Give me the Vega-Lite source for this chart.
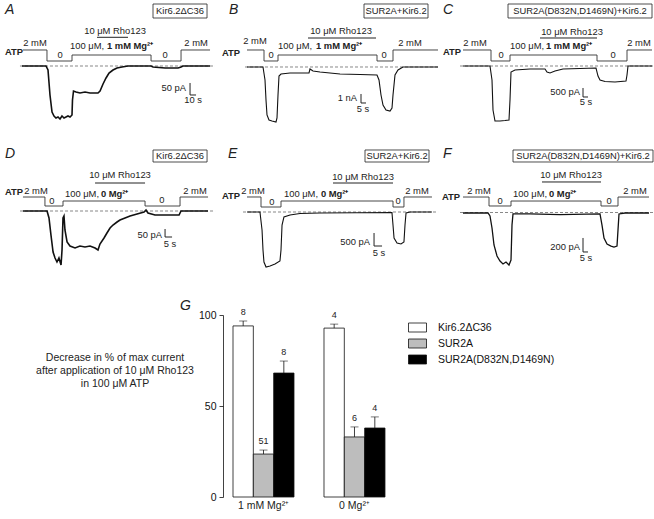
{
"$schema": "https://vega.github.io/schema/vega-lite/v6.json",
"padding": 0,
"spacing": 0,
"columns": 3,
"align": "none",
"bounds": "flush",
"config": {"view": {"stroke": null}, "font": "Liberation Sans", "text": {"font": "Liberation Sans", "fontSize": 9.4, "color": "#222"}},
"datasets": {
"trace": [
{"p":"A","t":36.7,"i":0},{"p":"A","t":76.7,"i":0},{"p":"A","t":80,"i":-16.7},{"p":"A","t":83.3,"i":-120.8},{"p":"A","t":86.7,"i":-191.7},{"p":"A","t":90,"i":-208.3},{"p":"A","t":93.3,"i":-216.7},{"p":"A","t":96.7,"i":-212.5},{"p":"A","t":100,"i":-220.8},{"p":"A","t":103.3,"i":-208.3},{"p":"A","t":106.7,"i":-216.7},{"p":"A","t":110,"i":-212.5},{"p":"A","t":113.3,"i":-208.3},{"p":"A","t":116.7,"i":-212.5},{"p":"A","t":120,"i":-204.2},{"p":"A","t":120.8,"i":-141.7},{"p":"A","t":122.5,"i":-104.2},{"p":"A","t":126.7,"i":-108.3},{"p":"A","t":133.3,"i":-112.5},{"p":"A","t":141.7,"i":-108.3},{"p":"A","t":150,"i":-112.5},{"p":"A","t":158.3,"i":-112.5},{"p":"A","t":163.3,"i":-112.5},{"p":"A","t":166.7,"i":-104.2},{"p":"A","t":171.7,"i":-75},{"p":"A","t":176.7,"i":-50},{"p":"A","t":181.7,"i":-29.2},{"p":"A","t":188.3,"i":-16.7},{"p":"A","t":195,"i":-8.3},{"p":"A","t":203.3,"i":-4.2},{"p":"A","t":213.3,"i":0},{"p":"A","t":251.7,"i":0},{"p":"A","t":255,"i":-4.2},{"p":"A","t":275,"i":-8.3},{"p":"A","t":296.7,"i":-8.3},{"p":"A","t":301.7,"i":-4.2},{"p":"A","t":305,"i":0},{"p":"A","t":350,"i":0},
{"p":"B","t":32,"i":0},{"p":"B","t":48,"i":0},{"p":"B","t":50,"i":-1444},{"p":"B","t":51,"i":-3667},{"p":"B","t":52,"i":-5333},{"p":"B","t":54,"i":-5889},{"p":"B","t":57,"i":-6000},{"p":"B","t":61,"i":-6111},{"p":"B","t":62,"i":-5667},{"p":"B","t":63,"i":-3111},{"p":"B","t":64,"i":-1000},{"p":"B","t":66,"i":-778},{"p":"B","t":75,"i":-667},{"p":"B","t":85,"i":-667},{"p":"B","t":94,"i":-667},{"p":"B","t":95,"i":-222},{"p":"B","t":98,"i":-444},{"p":"B","t":105,"i":-556},{"p":"B","t":125,"i":-778},{"p":"B","t":145,"i":-833},{"p":"B","t":162,"i":-889},{"p":"B","t":164,"i":-1444},{"p":"B","t":166,"i":-3111},{"p":"B","t":168,"i":-4222},{"p":"B","t":171,"i":-4778},{"p":"B","t":175,"i":-4889},{"p":"B","t":177,"i":-4556},{"p":"B","t":178,"i":-3111},{"p":"B","t":180,"i":-889},{"p":"B","t":183,"i":-333},{"p":"B","t":188,"i":0},{"p":"B","t":223,"i":0},
{"p":"C","t":23,"i":0},{"p":"C","t":50,"i":0},{"p":"C","t":52,"i":-778},{"p":"C","t":53,"i":-2444},{"p":"C","t":55,"i":-3056},{"p":"C","t":60,"i":-3056},{"p":"C","t":65,"i":-3028},{"p":"C","t":69,"i":-3000},{"p":"C","t":70,"i":-1889},{"p":"C","t":71,"i":-333},{"p":"C","t":75,"i":-222},{"p":"C","t":90,"i":-167},{"p":"C","t":105,"i":-167},{"p":"C","t":107,"i":-333},{"p":"C","t":110,"i":-389},{"p":"C","t":115,"i":-278},{"p":"C","t":123,"i":-167},{"p":"C","t":140,"i":-139},{"p":"C","t":156,"i":-111},{"p":"C","t":158,"i":-556},{"p":"C","t":160,"i":-778},{"p":"C","t":165,"i":-861},{"p":"C","t":175,"i":-889},{"p":"C","t":186,"i":-833},{"p":"C","t":187,"i":-500},{"p":"C","t":188,"i":0},{"p":"C","t":212,"i":0},
{"p":"D","t":16.4,"i":0},{"p":"D","t":33.6,"i":0},{"p":"D","t":35,"i":-43.75},{"p":"D","t":36.4,"i":-150},{"p":"D","t":37.9,"i":-256.25},{"p":"D","t":39.3,"i":-293.75},{"p":"D","t":40.7,"i":-318.75},{"p":"D","t":42.1,"i":-293.75},{"p":"D","t":43.6,"i":-337.5},{"p":"D","t":44.3,"i":-243.75},{"p":"D","t":45,"i":-43.75},{"p":"D","t":45.7,"i":-31.25},{"p":"D","t":46.4,"i":-118.75},{"p":"D","t":47.9,"i":-193.75},{"p":"D","t":50,"i":-218.75},{"p":"D","t":53.6,"i":-231.25},{"p":"D","t":57.1,"i":-218.75},{"p":"D","t":60.7,"i":-225},{"p":"D","t":64.3,"i":-218.75},{"p":"D","t":67.9,"i":-231.25},{"p":"D","t":70,"i":-243.75},{"p":"D","t":71.4,"i":-206.25},{"p":"D","t":74.3,"i":-168.75},{"p":"D","t":76.4,"i":-137.5},{"p":"D","t":78.6,"i":-106.25},{"p":"D","t":80.7,"i":-87.5},{"p":"D","t":83.6,"i":-68.75},{"p":"D","t":85.7,"i":-56.25},{"p":"D","t":89.3,"i":-43.75},{"p":"D","t":92.9,"i":-31.25},{"p":"D","t":97.9,"i":-18.75},{"p":"D","t":102.9,"i":-6.25},{"p":"D","t":104.3,"i":6.25},{"p":"D","t":105.7,"i":-12.5},{"p":"D","t":110.7,"i":-25},{"p":"D","t":121.4,"i":-25},{"p":"D","t":127.9,"i":-25},{"p":"D","t":129.3,"i":0},{"p":"D","t":148.6,"i":0},
{"p":"E","t":20,"i":0},{"p":"E","t":28.1,"i":0},{"p":"E","t":29.4,"i":-692},{"p":"E","t":30,"i":-1462},{"p":"E","t":30.6,"i":-1923},{"p":"E","t":31.9,"i":-2115},{"p":"E","t":34.4,"i":-2077},{"p":"E","t":37.5,"i":-2000},{"p":"E","t":40.6,"i":-1885},{"p":"E","t":41.25,"i":-1462},{"p":"E","t":41.9,"i":-500},{"p":"E","t":43.1,"i":-192},{"p":"E","t":46.9,"i":-115},{"p":"E","t":53.1,"i":-58},{"p":"E","t":65.6,"i":-38},{"p":"E","t":110.6,"i":-19},{"p":"E","t":111.25,"i":-500},{"p":"E","t":111.9,"i":-1000},{"p":"E","t":113.75,"i":-1192},{"p":"E","t":116.25,"i":-1231},{"p":"E","t":118.1,"i":-1154},{"p":"E","t":118.75,"i":-500},{"p":"E","t":119.4,"i":-38},{"p":"E","t":121.9,"i":0},{"p":"E","t":135.6,"i":0},
{"p":"F","t":23,"i":-7},{"p":"F","t":48,"i":-7},{"p":"F","t":50,"i":-50},{"p":"F","t":52,"i":-221},{"p":"F","t":54,"i":-464},{"p":"F","t":57,"i":-621},{"p":"F","t":60,"i":-693},{"p":"F","t":63,"i":-736},{"p":"F","t":66,"i":-707},{"p":"F","t":69,"i":-750},{"p":"F","t":71,"i":-679},{"p":"F","t":72,"i":-179},{"p":"F","t":73,"i":-21},{"p":"F","t":90,"i":-21},{"p":"F","t":120,"i":-29},{"p":"F","t":160,"i":-21},{"p":"F","t":162,"i":-179},{"p":"F","t":164,"i":-364},{"p":"F","t":167,"i":-450},{"p":"F","t":171,"i":-479},{"p":"F","t":174,"i":-493},{"p":"F","t":177,"i":-479},{"p":"F","t":178,"i":-250},{"p":"F","t":179,"i":-21},{"p":"F","t":185,"i":-7},{"p":"F","t":209,"i":-7}
],
"proto": [
{"p":"A","t":38.3,"i":66.7},{"p":"A","t":78.3,"i":20.8},{"p":"A","t":120,"i":45.8},{"p":"A","t":251.7,"i":20.8},{"p":"A","t":301.7,"i":66.7},{"p":"A","t":350,"i":66.7},
{"p":"B","t":32,"i":1889},{"p":"B","t":49,"i":667},{"p":"B","t":63,"i":1333},{"p":"B","t":162,"i":667},{"p":"B","t":178,"i":1889},{"p":"B","t":223,"i":1889},
{"p":"C","t":23,"i":889},{"p":"C","t":51,"i":278},{"p":"C","t":70,"i":611},{"p":"C","t":157,"i":278},{"p":"C","t":187,"i":889},{"p":"C","t":212,"i":889},
{"p":"D","t":16.4,"i":87.5},{"p":"D","t":32.1,"i":31.25},{"p":"D","t":45,"i":62.5},{"p":"D","t":103.6,"i":31.25},{"p":"D","t":128.6,"i":87.5},{"p":"D","t":148.6,"i":87.5},
{"p":"E","t":20,"i":577},{"p":"E","t":28.75,"i":192},{"p":"E","t":41.25,"i":423},{"p":"E","t":111.25,"i":192},{"p":"E","t":118.1,"i":577},{"p":"E","t":135.6,"i":577},
{"p":"F","t":23,"i":221},{"p":"F","t":49,"i":93},{"p":"F","t":71,"i":164},{"p":"F","t":161,"i":93},{"p":"F","t":178,"i":221},{"p":"F","t":209,"i":221}
],
"baseline": [
{"p":"A","t":33.3,"t2":358.3,"i":0},{"p":"B","t":30,"t2":223,"i":0},{"p":"C","t":20,"t2":214,"i":0},{"p":"D","t":14.3,"t2":153.6,"i":0},{"p":"E","t":17.5,"t2":139.4,"i":0},{"p":"F","t":20,"t2":214,"i":0}
],
"segs": [
{"p":"A","t":161.7,"t2":213.3,"i":119.6,"i2":119.6},{"p":"A","t":316.7,"t2":316.7,"i":-70.8,"i2":-120.8},{"p":"A","t":316.7,"t2":326.7,"i":-120.8,"i2":-120.8},
{"p":"B","t":93,"t2":161,"i":3222,"i2":3222},{"p":"B","t":146,"t2":146,"i":-3000,"i2":-4000},{"p":"B","t":146,"t2":151,"i":-4000,"i2":-4000},
{"p":"C","t":100,"t2":157,"i":1556,"i2":1556},{"p":"C","t":143,"t2":143,"i":-1222,"i2":-1722},{"p":"C","t":143,"t2":148,"i":-1722,"i2":-1722},
{"p":"D","t":67.9,"t2":103.6,"i":175,"i2":175},{"p":"D","t":117.9,"t2":117.9,"i":-112.5,"i2":-162.5},{"p":"D","t":117.9,"t2":122.9,"i":-162.5,"i2":-162.5},
{"p":"E","t":73.75,"t2":111.25,"i":1115,"i2":1115},{"p":"E","t":99.4,"t2":99.4,"i":-808,"i2":-1308},{"p":"E","t":99.4,"t2":104.4,"i":-1308,"i2":-1308},
{"p":"F","t":102,"t2":161,"i":436,"i2":436},{"p":"F","t":143,"t2":143,"i":-364,"i2":-564},{"p":"F","t":143,"t2":148,"i":-564,"i2":-564}
],
"boxes": [
{"p":"A","t":255,"t2":345,"i":200,"i2":258.3},{"p":"B","t":149,"t2":213,"i":5444,"i2":7000},{"p":"C","t":68,"t2":212,"i":2667,"i2":3444},{"p":"D","t":109.3,"t2":147.9,"i":306.25,"i2":381.25},{"p":"E","t":93.75,"t2":133.75,"i":1923,"i2":2385},{"p":"F","t":73,"t2":213,"i":721.6,"i2":893}
],
"labC": [
{"p":"A","t":191.7,"i":145.8,"txt":"10 μM Rho123"},{"p":"A","t":58.3,"i":95.8,"txt":"2 mM"},{"p":"A","t":100,"i":45.8,"txt":"0"},{"p":"A","t":275,"i":45.8,"txt":"0"},{"p":"A","t":326.7,"i":95.8,"txt":"2 mM"},{"p":"A","t":321.7,"i":-141.7,"txt":"10 s"},{"p":"A","t":300,"i":229.2,"txt":"Kir6.2ΔC36"},
{"p":"B","t":126,"i":4000,"txt":"10 μM Rho123"},{"p":"B","t":40,"i":2889,"txt":"2 mM"},{"p":"B","t":56,"i":1333,"txt":"0"},{"p":"B","t":169,"i":1333,"txt":"0"},{"p":"B","t":195,"i":2667,"txt":"2 mM"},{"p":"B","t":148,"i":-4667,"txt":"5 s"},{"p":"B","t":181,"i":6222,"txt":"SUR2A+Kir6.2"},
{"p":"C","t":132,"i":1889,"txt":"10 μM Rho123"},{"p":"C","t":35,"i":1278,"txt":"2 mM"},{"p":"C","t":61,"i":611,"txt":"0"},{"p":"C","t":173,"i":611,"txt":"0"},{"p":"C","t":199,"i":1278,"txt":"2 mM"},{"p":"C","t":146,"i":-2000,"txt":"5 s"},{"p":"C","t":140,"i":3056,"txt":"SUR2A(D832N,D1469N)+Kir6.2"},
{"p":"D","t":85.7,"i":225,"txt":"10 μM Rho123"},{"p":"D","t":25.7,"i":125,"txt":"2 mM"},{"p":"D","t":37.1,"i":62.5,"txt":"0"},{"p":"D","t":115.7,"i":68.75,"txt":"0"},{"p":"D","t":139.3,"i":125,"txt":"2 mM"},{"p":"D","t":121.4,"i":-206.25,"txt":"5 s"},{"p":"D","t":128.6,"i":343.75,"txt":"Kir6.2ΔC36"},
{"p":"E","t":92.5,"i":1346,"txt":"10 μM Rho123"},{"p":"E","t":23.75,"i":808,"txt":"2 mM"},{"p":"E","t":35.6,"i":385,"txt":"0"},{"p":"E","t":114.4,"i":423,"txt":"0"},{"p":"E","t":126.25,"i":808,"txt":"2 mM"},{"p":"E","t":102.5,"i":-1577,"txt":"5 s"},{"p":"E","t":113.75,"i":2154,"txt":"SUR2A+Kir6.2"},
{"p":"F","t":131,"i":536,"txt":"10 μM Rho123"},{"p":"F","t":39,"i":307,"txt":"2 mM"},{"p":"F","t":60,"i":164,"txt":"0"},{"p":"F","t":169,"i":164,"txt":"0"},{"p":"F","t":195,"i":307,"txt":"2 mM"},{"p":"F","t":146,"i":-650,"txt":"5 s"},{"p":"F","t":143,"i":807,"txt":"SUR2A(D832N,D1469N)+Kir6.2"}
],
"labL": [
{"p":"A","t":116.7,"i":83.3,"txt":"100 μM,"},{"p":"B","t":63,"i":2333,"txt":"100 μM,"},{"p":"C","t":70,"i":1111,"txt":"100 μM,"},{"p":"D","t":46.4,"i":106.25,"txt":"100 μM,"},{"p":"E","t":43.1,"i":692,"txt":"100 μM,"},{"p":"F","t":73,"i":264,"txt":"100 μM,"}
],
"labR": [
{"p":"A","t":310,"i":-91.7,"txt":"50 pA"},{"p":"B","t":142,"i":-3444,"txt":"1 nA"},{"p":"C","t":140,"i":-1444,"txt":"500 pA"},{"p":"D","t":115.7,"i":-150,"txt":"50 pA"},{"p":"E","t":96.9,"i":-1154,"txt":"500 pA"},{"p":"F","t":140,"i":-493,"txt":"200 pA"}
],
"labB": [
{"p":"A","t":8.3,"i":58.3,"txt":"ATP"},{"p":"A","t":178.3,"i":83.3,"txt":"1 mM Mg²⁺"},
{"p":"B","t":7,"i":1556,"txt":"ATP"},{"p":"B","t":101,"i":2333,"txt":"1 mM Mg²⁺"},
{"p":"C","t":3,"i":778,"txt":"ATP"},{"p":"C","t":106,"i":1111,"txt":"1 mM Mg²⁺"},
{"p":"D","t":3.6,"i":118.75,"txt":"ATP"},{"p":"D","t":72.1,"i":106.25,"txt":"0 Mg²⁺"},
{"p":"E","t":4.4,"i":615,"txt":"ATP"},{"p":"E","t":66.2,"i":692,"txt":"0 Mg²⁺"},
{"p":"F","t":2,"i":221,"txt":"ATP"},{"p":"F","t":109,"i":264,"txt":"0 Mg²⁺"}
],
"letters": [
{"p":"A","t":8.3,"i":216.7,"txt":"A"},{"p":"B","t":14,"i":5889,"txt":"B"},{"p":"C","t":3,"i":2889,"txt":"C"},{"p":"D","t":3.6,"i":331,"txt":"D"},{"p":"E","t":8.1,"i":2077,"txt":"E"},{"p":"F","t":3,"i":779,"txt":"F"}
],
"bars": [
{"cond":"1 mM Mg²⁺","grp":"Kir6.2ΔC36","v":94.0,"hi":96.7,"n":"8"},
{"cond":"1 mM Mg²⁺","grp":"SUR2A","v":23.6,"hi":25.8,"n":"51"},
{"cond":"1 mM Mg²⁺","grp":"SUR2A(D832N,D1469N)","v":68.1,"hi":74.7,"n":"8"},
{"cond":"0 Mg²⁺","grp":"Kir6.2ΔC36","v":92.8,"hi":95.0,"n":"4"},
{"cond":"0 Mg²⁺","grp":"SUR2A","v":33.0,"hi":38.5,"n":"6"},
{"cond":"0 Mg²⁺","grp":"SUR2A(D832N,D1469N)","v":37.9,"hi":44.0,"n":"4"}
],
"condlab": [
{"cond":"1 mM Mg²⁺","ly":-5},{"cond":"0 Mg²⁺","ly":-5}
]
},
"concat": [
{"width":215,"height":146,
"encoding":{"x":{"field":"t","type":"quantitative","scale":{"domain":[0,358.3],"nice":false,"zero":false},"axis":null},"y":{"field":"i","type":"quantitative","scale":{"domain":[-333.3,275],"nice":false,"zero":false},"axis":null}},
"layer":[
{"data":{"name":"baseline"},"transform":[{"filter":"datum.p=='A'"}],"mark":{"type":"rule","strokeDash":[3,2],"color":"#555","strokeWidth":0.7},"encoding":{"x2":{"field":"t2"}}},
{"data":{"name":"segs"},"transform":[{"filter":"datum.p=='A'"}],"mark":{"type":"rule","color":"#222","strokeWidth":1},"encoding":{"x2":{"field":"t2"},"y2":{"field":"i2"}}},
{"data":{"name":"boxes"},"transform":[{"filter":"datum.p=='A'"}],"mark":{"type":"rect","fill":"#fff","stroke":"#222","strokeWidth":0.8},"encoding":{"x2":{"field":"t2"},"y2":{"field":"i2"}}},
{"data":{"name":"proto"},"transform":[{"filter":"datum.p=='A'"}],"mark":{"type":"line","interpolate":"step-after","color":"#333","strokeWidth":0.9},"encoding":{"order":{"value":null}}},
{"data":{"name":"trace"},"transform":[{"filter":"datum.p=='A'"}],"mark":{"type":"line","color":"#111","strokeWidth":1.6},"encoding":{"order":{"value":null}}},
{"data":{"name":"labC"},"transform":[{"filter":"datum.p=='A'"}],"mark":{"type":"text","align":"center","baseline":"middle"},"encoding":{"text":{"field":"txt"}}},
{"data":{"name":"labL"},"transform":[{"filter":"datum.p=='A'"}],"mark":{"type":"text","align":"left","baseline":"middle"},"encoding":{"text":{"field":"txt"}}},
{"data":{"name":"labR"},"transform":[{"filter":"datum.p=='A'"}],"mark":{"type":"text","align":"right","baseline":"middle"},"encoding":{"text":{"field":"txt"}}},
{"data":{"name":"labB"},"transform":[{"filter":"datum.p=='A'"}],"mark":{"type":"text","align":"left","baseline":"middle","fontWeight":"bold"},"encoding":{"text":{"field":"txt"}}},
{"data":{"name":"letters"},"transform":[{"filter":"datum.p=='A'"}],"mark":{"type":"text","align":"left","baseline":"alphabetic","fontStyle":"italic","fontSize":14},"encoding":{"text":{"field":"txt"}}}
]},
{"width":225,"height":146,
"encoding":{"x":{"field":"t","type":"quantitative","scale":{"domain":[0,225],"nice":false,"zero":false},"axis":null},"y":{"field":"i","type":"quantitative","scale":{"domain":[-8777.8,7444.4],"nice":false,"zero":false},"axis":null}},
"layer":[
{"data":{"name":"baseline"},"transform":[{"filter":"datum.p=='B'"}],"mark":{"type":"rule","strokeDash":[3,2],"color":"#555","strokeWidth":0.7},"encoding":{"x2":{"field":"t2"}}},
{"data":{"name":"segs"},"transform":[{"filter":"datum.p=='B'"}],"mark":{"type":"rule","color":"#222","strokeWidth":1},"encoding":{"x2":{"field":"t2"},"y2":{"field":"i2"}}},
{"data":{"name":"boxes"},"transform":[{"filter":"datum.p=='B'"}],"mark":{"type":"rect","fill":"#fff","stroke":"#222","strokeWidth":0.8},"encoding":{"x2":{"field":"t2"},"y2":{"field":"i2"}}},
{"data":{"name":"proto"},"transform":[{"filter":"datum.p=='B'"}],"mark":{"type":"line","interpolate":"step-after","color":"#333","strokeWidth":0.9},"encoding":{"order":{"value":null}}},
{"data":{"name":"trace"},"transform":[{"filter":"datum.p=='B'"}],"mark":{"type":"line","color":"#111","strokeWidth":1.1},"encoding":{"order":{"value":null}}},
{"data":{"name":"labC"},"transform":[{"filter":"datum.p=='B'"}],"mark":{"type":"text","align":"center","baseline":"middle"},"encoding":{"text":{"field":"txt"}}},
{"data":{"name":"labL"},"transform":[{"filter":"datum.p=='B'"}],"mark":{"type":"text","align":"left","baseline":"middle"},"encoding":{"text":{"field":"txt"}}},
{"data":{"name":"labR"},"transform":[{"filter":"datum.p=='B'"}],"mark":{"type":"text","align":"right","baseline":"middle"},"encoding":{"text":{"field":"txt"}}},
{"data":{"name":"labB"},"transform":[{"filter":"datum.p=='B'"}],"mark":{"type":"text","align":"left","baseline":"middle","fontWeight":"bold"},"encoding":{"text":{"field":"txt"}}},
{"data":{"name":"letters"},"transform":[{"filter":"datum.p=='B'"}],"mark":{"type":"text","align":"left","baseline":"alphabetic","fontStyle":"italic","fontSize":14},"encoding":{"text":{"field":"txt"}}}
]},
{"width":214,"height":146,
"encoding":{"x":{"field":"t","type":"quantitative","scale":{"domain":[0,214],"nice":false,"zero":false},"axis":null},"y":{"field":"i","type":"quantitative","scale":{"domain":[-4444.4,3666.7],"nice":false,"zero":false},"axis":null}},
"layer":[
{"data":{"name":"baseline"},"transform":[{"filter":"datum.p=='C'"}],"mark":{"type":"rule","strokeDash":[3,2],"color":"#555","strokeWidth":0.7},"encoding":{"x2":{"field":"t2"}}},
{"data":{"name":"segs"},"transform":[{"filter":"datum.p=='C'"}],"mark":{"type":"rule","color":"#222","strokeWidth":1},"encoding":{"x2":{"field":"t2"},"y2":{"field":"i2"}}},
{"data":{"name":"boxes"},"transform":[{"filter":"datum.p=='C'"}],"mark":{"type":"rect","fill":"#fff","stroke":"#222","strokeWidth":0.8},"encoding":{"x2":{"field":"t2"},"y2":{"field":"i2"}}},
{"data":{"name":"proto"},"transform":[{"filter":"datum.p=='C'"}],"mark":{"type":"line","interpolate":"step-after","color":"#333","strokeWidth":0.9},"encoding":{"order":{"value":null}}},
{"data":{"name":"trace"},"transform":[{"filter":"datum.p=='C'"}],"mark":{"type":"line","color":"#111","strokeWidth":1.1},"encoding":{"order":{"value":null}}},
{"data":{"name":"labC"},"transform":[{"filter":"datum.p=='C'"}],"mark":{"type":"text","align":"center","baseline":"middle"},"encoding":{"text":{"field":"txt"}}},
{"data":{"name":"labL"},"transform":[{"filter":"datum.p=='C'"}],"mark":{"type":"text","align":"left","baseline":"middle"},"encoding":{"text":{"field":"txt"}}},
{"data":{"name":"labR"},"transform":[{"filter":"datum.p=='C'"}],"mark":{"type":"text","align":"right","baseline":"middle"},"encoding":{"text":{"field":"txt"}}},
{"data":{"name":"labB"},"transform":[{"filter":"datum.p=='C'"}],"mark":{"type":"text","align":"left","baseline":"middle","fontWeight":"bold"},"encoding":{"text":{"field":"txt"}}},
{"data":{"name":"letters"},"transform":[{"filter":"datum.p=='C'"}],"mark":{"type":"text","align":"left","baseline":"alphabetic","fontStyle":"italic","fontSize":14},"encoding":{"text":{"field":"txt"}}}
]},
{"width":215,"height":146,
"encoding":{"x":{"field":"t","type":"quantitative","scale":{"domain":[0,153.57],"nice":false,"zero":false},"axis":null},"y":{"field":"i","type":"quantitative","scale":{"domain":[-506.25,406.25],"nice":false,"zero":false},"axis":null}},
"layer":[
{"data":{"name":"baseline"},"transform":[{"filter":"datum.p=='D'"}],"mark":{"type":"rule","strokeDash":[3,2],"color":"#555","strokeWidth":0.7},"encoding":{"x2":{"field":"t2"}}},
{"data":{"name":"segs"},"transform":[{"filter":"datum.p=='D'"}],"mark":{"type":"rule","color":"#222","strokeWidth":1},"encoding":{"x2":{"field":"t2"},"y2":{"field":"i2"}}},
{"data":{"name":"boxes"},"transform":[{"filter":"datum.p=='D'"}],"mark":{"type":"rect","fill":"#fff","stroke":"#222","strokeWidth":0.8},"encoding":{"x2":{"field":"t2"},"y2":{"field":"i2"}}},
{"data":{"name":"proto"},"transform":[{"filter":"datum.p=='D'"}],"mark":{"type":"line","interpolate":"step-after","color":"#333","strokeWidth":0.9},"encoding":{"order":{"value":null}}},
{"data":{"name":"trace"},"transform":[{"filter":"datum.p=='D'"}],"mark":{"type":"line","color":"#111","strokeWidth":1.6},"encoding":{"order":{"value":null}}},
{"data":{"name":"labC"},"transform":[{"filter":"datum.p=='D'"}],"mark":{"type":"text","align":"center","baseline":"middle"},"encoding":{"text":{"field":"txt"}}},
{"data":{"name":"labL"},"transform":[{"filter":"datum.p=='D'"}],"mark":{"type":"text","align":"left","baseline":"middle"},"encoding":{"text":{"field":"txt"}}},
{"data":{"name":"labR"},"transform":[{"filter":"datum.p=='D'"}],"mark":{"type":"text","align":"right","baseline":"middle"},"encoding":{"text":{"field":"txt"}}},
{"data":{"name":"labB"},"transform":[{"filter":"datum.p=='D'"}],"mark":{"type":"text","align":"left","baseline":"middle","fontWeight":"bold"},"encoding":{"text":{"field":"txt"}}},
{"data":{"name":"letters"},"transform":[{"filter":"datum.p=='D'"}],"mark":{"type":"text","align":"left","baseline":"alphabetic","fontStyle":"italic","fontSize":14},"encoding":{"text":{"field":"txt"}}}
]},
{"width":225,"height":146,
"encoding":{"x":{"field":"t","type":"quantitative","scale":{"domain":[0,140.625],"nice":false,"zero":false},"axis":null},"y":{"field":"i","type":"quantitative","scale":{"domain":[-3076.9,2538.5],"nice":false,"zero":false},"axis":null}},
"layer":[
{"data":{"name":"baseline"},"transform":[{"filter":"datum.p=='E'"}],"mark":{"type":"rule","strokeDash":[3,2],"color":"#555","strokeWidth":0.7},"encoding":{"x2":{"field":"t2"}}},
{"data":{"name":"segs"},"transform":[{"filter":"datum.p=='E'"}],"mark":{"type":"rule","color":"#222","strokeWidth":1},"encoding":{"x2":{"field":"t2"},"y2":{"field":"i2"}}},
{"data":{"name":"boxes"},"transform":[{"filter":"datum.p=='E'"}],"mark":{"type":"rect","fill":"#fff","stroke":"#222","strokeWidth":0.8},"encoding":{"x2":{"field":"t2"},"y2":{"field":"i2"}}},
{"data":{"name":"proto"},"transform":[{"filter":"datum.p=='E'"}],"mark":{"type":"line","interpolate":"step-after","color":"#333","strokeWidth":0.9},"encoding":{"order":{"value":null}}},
{"data":{"name":"trace"},"transform":[{"filter":"datum.p=='E'"}],"mark":{"type":"line","color":"#111","strokeWidth":1.1},"encoding":{"order":{"value":null}}},
{"data":{"name":"labC"},"transform":[{"filter":"datum.p=='E'"}],"mark":{"type":"text","align":"center","baseline":"middle"},"encoding":{"text":{"field":"txt"}}},
{"data":{"name":"labL"},"transform":[{"filter":"datum.p=='E'"}],"mark":{"type":"text","align":"left","baseline":"middle"},"encoding":{"text":{"field":"txt"}}},
{"data":{"name":"labR"},"transform":[{"filter":"datum.p=='E'"}],"mark":{"type":"text","align":"right","baseline":"middle"},"encoding":{"text":{"field":"txt"}}},
{"data":{"name":"labB"},"transform":[{"filter":"datum.p=='E'"}],"mark":{"type":"text","align":"left","baseline":"middle","fontWeight":"bold"},"encoding":{"text":{"field":"txt"}}},
{"data":{"name":"letters"},"transform":[{"filter":"datum.p=='E'"}],"mark":{"type":"text","align":"left","baseline":"alphabetic","fontStyle":"italic","fontSize":14},"encoding":{"text":{"field":"txt"}}}
]},
{"width":214,"height":146,
"encoding":{"x":{"field":"t","type":"quantitative","scale":{"domain":[0,214],"nice":false,"zero":false},"axis":null},"y":{"field":"i","type":"quantitative","scale":{"domain":[-1135.7,950],"nice":false,"zero":false},"axis":null}},
"layer":[
{"data":{"name":"baseline"},"transform":[{"filter":"datum.p=='F'"}],"mark":{"type":"rule","strokeDash":[3,2],"color":"#555","strokeWidth":0.7},"encoding":{"x2":{"field":"t2"}}},
{"data":{"name":"segs"},"transform":[{"filter":"datum.p=='F'"}],"mark":{"type":"rule","color":"#222","strokeWidth":1},"encoding":{"x2":{"field":"t2"},"y2":{"field":"i2"}}},
{"data":{"name":"boxes"},"transform":[{"filter":"datum.p=='F'"}],"mark":{"type":"rect","fill":"#fff","stroke":"#222","strokeWidth":0.8},"encoding":{"x2":{"field":"t2"},"y2":{"field":"i2"}}},
{"data":{"name":"proto"},"transform":[{"filter":"datum.p=='F'"}],"mark":{"type":"line","interpolate":"step-after","color":"#333","strokeWidth":0.9},"encoding":{"order":{"value":null}}},
{"data":{"name":"trace"},"transform":[{"filter":"datum.p=='F'"}],"mark":{"type":"line","color":"#111","strokeWidth":1.3},"encoding":{"order":{"value":null}}},
{"data":{"name":"labC"},"transform":[{"filter":"datum.p=='F'"}],"mark":{"type":"text","align":"center","baseline":"middle"},"encoding":{"text":{"field":"txt"}}},
{"data":{"name":"labL"},"transform":[{"filter":"datum.p=='F'"}],"mark":{"type":"text","align":"left","baseline":"middle"},"encoding":{"text":{"field":"txt"}}},
{"data":{"name":"labR"},"transform":[{"filter":"datum.p=='F'"}],"mark":{"type":"text","align":"right","baseline":"middle"},"encoding":{"text":{"field":"txt"}}},
{"data":{"name":"labB"},"transform":[{"filter":"datum.p=='F'"}],"mark":{"type":"text","align":"left","baseline":"middle","fontWeight":"bold"},"encoding":{"text":{"field":"txt"}}},
{"data":{"name":"letters"},"transform":[{"filter":"datum.p=='F'"}],"mark":{"type":"text","align":"left","baseline":"alphabetic","fontStyle":"italic","fontSize":14},"encoding":{"text":{"field":"txt"}}}
]},
{"width":215,"height":227,
"encoding":{"x":{"field":"x","type":"quantitative","scale":{"domain":[0,1],"nice":false,"zero":false},"axis":null},"y":{"field":"y","type":"quantitative","scale":{"domain":[0,1],"nice":false,"zero":false},"axis":null}},
"layer":[
{"data":{"values":[{"x":0.535,"y":0.709,"txt":"Decrease in % of max current"},{"x":0.535,"y":0.652,"txt":"after application of 10 μM Rho123"},{"x":0.535,"y":0.595,"txt":"in 100 μM ATP"}]},"mark":{"type":"text","align":"center","baseline":"middle","fontSize":10.5},"encoding":{"text":{"field":"txt"}}},
{"data":{"values":[{"x":0.837,"y":0.921,"txt":"G"}]},"mark":{"type":"text","align":"left","baseline":"alphabetic","fontSize":14,"fontStyle":"italic"},"encoding":{"text":{"field":"txt"}}}
]},
{"width":188,"height":227,
"layer":[
{"data":{"name":"bars"},"mark":{"type":"bar","stroke":"#111","strokeWidth":0.8},
"encoding":{
"x":{"field":"cond","type":"nominal","sort":["1 mM Mg²⁺","0 Mg²⁺"],"scale":{"paddingInner":0.3297,"paddingOuter":0.198},"axis":null},
"xOffset":{"field":"grp","type":"nominal","sort":["Kir6.2ΔC36","SUR2A","SUR2A(D832N,D1469N)"],"scale":{"paddingInner":0,"paddingOuter":0}},
"y":{"field":"v","type":"quantitative","scale":{"domain":[0,100],"range":[205,23],"nice":false,"zero":false},"axis":{"values":[0,50,100],"offset":-8,"domain":true,"domainColor":"#111","domainWidth":0.8,"ticks":true,"tickSize":4,"tickColor":"#111","tickWidth":0.8,"labelFontSize":10.5,"labelPadding":3,"labelColor":"#111","labelFont":"Liberation Sans","grid":false,"title":null}},
"fill":{"field":"grp","type":"nominal","scale":{"domain":["Kir6.2ΔC36","SUR2A","SUR2A(D832N,D1469N)"],"range":["#ffffff","#bdbdbd","#000000"]},"legend":{"orient":"none","legendX":408,"legendY":318,"title":null,"symbolType":"M-1,-0.5H1V0.5H-1Z","symbolSize":324,"symbolStrokeColor":"#111","symbolStrokeWidth":0.8,"labelFontSize":10.5,"labelFont":"Liberation Sans","labelColor":"#111","labelOffset":11,"rowPadding":0,"padding":0}}
}},
{"data":{"name":"bars"},"mark":{"type":"rule","color":"#111","strokeWidth":0.8},
"encoding":{
"x":{"field":"cond","type":"nominal","sort":["1 mM Mg²⁺","0 Mg²⁺"],"scale":{"paddingInner":0.3297,"paddingOuter":0.198},"axis":null},
"xOffset":{"field":"grp","type":"nominal","sort":["Kir6.2ΔC36","SUR2A","SUR2A(D832N,D1469N)"],"scale":{"paddingInner":0,"paddingOuter":0}},
"y":{"field":"v","type":"quantitative","scale":{"domain":[0,100],"range":[205,23],"nice":false,"zero":false}},
"y2":{"field":"hi"}}},
{"data":{"name":"bars"},"mark":{"type":"tick","size":8,"thickness":0.8,"color":"#111"},
"encoding":{
"x":{"field":"cond","type":"nominal","sort":["1 mM Mg²⁺","0 Mg²⁺"],"scale":{"paddingInner":0.3297,"paddingOuter":0.198},"axis":null},
"xOffset":{"field":"grp","type":"nominal","sort":["Kir6.2ΔC36","SUR2A","SUR2A(D832N,D1469N)"],"scale":{"paddingInner":0,"paddingOuter":0}},
"y":{"field":"hi","type":"quantitative","scale":{"domain":[0,100],"range":[205,23],"nice":false,"zero":false}}}},
{"data":{"name":"bars"},"mark":{"type":"text","dy":-6,"fontSize":9,"baseline":"alphabetic","align":"center"},
"encoding":{
"x":{"field":"cond","type":"nominal","sort":["1 mM Mg²⁺","0 Mg²⁺"],"scale":{"paddingInner":0.3297,"paddingOuter":0.198},"axis":null},
"xOffset":{"field":"grp","type":"nominal","sort":["Kir6.2ΔC36","SUR2A","SUR2A(D832N,D1469N)"],"scale":{"paddingInner":0,"paddingOuter":0}},
"y":{"field":"hi","type":"quantitative","scale":{"domain":[0,100],"range":[205,23],"nice":false,"zero":false}},
"text":{"field":"n"}}},
{"data":{"name":"condlab"},"mark":{"type":"text","fontSize":10.5,"baseline":"middle","align":"center"},
"encoding":{
"x":{"field":"cond","type":"nominal","sort":["1 mM Mg²⁺","0 Mg²⁺"],"scale":{"paddingInner":0.3297,"paddingOuter":0.198},"axis":null,"bandPosition":0.5},
"y":{"field":"ly","type":"quantitative","scale":{"domain":[0,100],"range":[205,23],"nice":false,"zero":false}},
"text":{"field":"cond"}}}
]}
]
}
